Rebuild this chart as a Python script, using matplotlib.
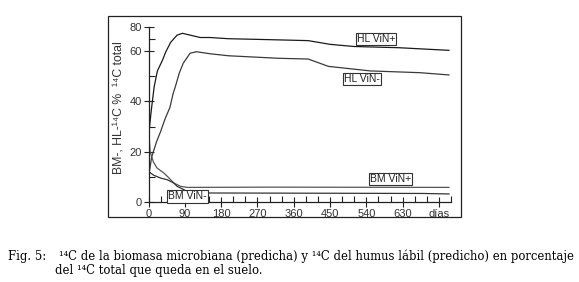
import numpy as np
import matplotlib.pyplot as plt
from matplotlib.patches import Rectangle
from matplotlib.ticker import MultipleLocator, FixedLocator

# % of total 14C against days
hl_pos_days = [0, 1, 2, 7, 14, 22, 34, 43, 55, 71, 84, 103, 128, 152, 198, 300, 396, 450, 510, 620, 745]
hl_pos_vals = [0, 22, 29, 36.5, 45.7, 52, 56, 59.6, 67, 73, 74.5, 73, 71, 71, 70, 69.2, 68.4, 65.3, 63.5, 62.5, 60.3]

hl_neg_days = [0, 2, 8, 20, 30, 41, 53, 61, 67, 76, 86, 103, 119, 152, 198, 322, 396, 446, 550, 673, 745]
hl_neg_vals = [0, 12, 18, 24, 28, 33, 37.5, 43, 46, 51, 55, 59, 59.6, 58.8, 58, 57, 56.7, 53.8, 52, 51.3, 50.4]

bm_pos_days = [0, 4, 12, 21, 38, 51, 63, 80, 96, 300, 745]
bm_pos_vals = [30, 20, 16, 13.6, 11.6, 9.6, 7.6, 6.3, 5.9, 6.0, 5.9]

bm_neg_days = [0, 13, 30, 47, 63, 71, 88, 100, 400, 680, 745]
bm_neg_vals = [12.2, 10.7, 9.6, 8.9, 7.6, 6.3, 5.0, 3.7, 3.6, 3.5, 3.3]

labels = ["HL ViN+", "HL ViN-", "BM ViN+", "BM ViN-"]
label_x = [564, 529, 600, 97]
label_y = [69.75, 48.8, 9.2, 2.3]

xtick_vals = [0, 90, 180, 270, 360, 450, 540, 630, 720]
xtick_labels = ["0", "90", "180", "270", "360", "450", "540", "630", "días"]
ytick_vals = [0, 20, 40, 60, 80]

caption_1 = "¹⁴C de la biomasa microbiana (predicha) y ¹⁴C del humus lábil (predicho) en porcentaje"
caption_2 = "del ¹⁴C total que queda en el suelo."

# the original y axis is squeezed above 60
k = 0.475
def fwd(y):
    y = np.asarray(y, dtype=float)
    return np.where(y <= 60, y, 60 + (y - 60) * k)
def inv(t):
    t = np.asarray(t, dtype=float)
    return np.where(t <= 60, t, 60 + (t - 60) / k)

sans = ["Liberation Sans", "DejaVu Sans"]
serif = ["DejaVu Serif"]

fig = plt.figure(figsize=(5.79, 2.82), dpi=100)
ax = fig.add_axes([148.5 / 579, (282 - 202.3) / 282, 302.5 / 579, 175.6 / 282])
ax.set_yscale("function", functions=(fwd, inv))

ax.plot(hl_pos_days, hl_pos_vals, color="#1a1a1a", lw=0.9)
ax.plot(hl_neg_days, hl_neg_vals, color="#3a3a3a", lw=0.9)
ax.plot(bm_pos_days, bm_pos_vals, color="#555555", lw=0.9)
ax.plot(bm_neg_days, bm_neg_vals, color="#333333", lw=0.9)

for s, x, y in zip(labels, label_x, label_y):
    ax.text(x, y, s, ha="center", va="center", fontsize=7.5, family=sans,
            color="#222", zorder=5,
            bbox=dict(boxstyle="square,pad=0.12", fc="white", ec="#333", lw=0.8))

ax.set_xlim(0, 750)
ax.set_ylim(0, 80)
for side in ["top", "right"]:
    ax.spines[side].set_visible(False)
for side in ["left", "bottom"]:
    ax.spines[side].set_linewidth(0.9)
    ax.spines[side].set_color("#222")

ax.xaxis.set_major_locator(FixedLocator(xtick_vals))
ax.set_xticklabels(xtick_labels)
ax.xaxis.set_minor_locator(MultipleLocator(30))
ax.yaxis.set_major_locator(FixedLocator(ytick_vals))
ax.yaxis.set_minor_locator(FixedLocator([10, 30, 50, 70]))
ax.tick_params(which="major", direction="inout", length=7, width=0.8,
               color="#222", labelsize=8, pad=1.5, labelcolor="#333")
ax.tick_params(which="minor", direction="in", length=4, width=0.8, color="#222")
for lab in ax.get_xticklabels() + ax.get_yticklabels():
    lab.set_family(sans)

fig.text(119 / 579, 1 - 108 / 282, "BM-, HL-¹⁴C %  ¹⁴C total", rotation=90,
         ha="center", va="center", fontsize=8.8, family=sans, color="#333")

fig.add_artist(Rectangle((108 / 579, 1 - 216.5 / 282), 353 / 579, 200.5 / 282,
                         transform=fig.transFigure, fill=False, ec="#222", lw=0.9))

fs = 8.7
fig.text(8 / 579, 1 - 260 / 282, "Fig. 5:", ha="left", va="baseline",
         fontsize=fs, family=serif)
t1 = fig.text(59 / 579, 1 - 260 / 282, caption_1, ha="left", va="baseline",
              fontsize=fs, family=serif)
t2 = fig.text(55 / 579, 1 - 274.3 / 282, caption_2, ha="left", va="baseline",
              fontsize=fs, family=serif)

# shrink the caption so the first line ends near the right edge, like the original
r = fig.canvas.get_renderer()
w = t1.get_window_extent(r).width
scale = (573 - 59) / w
for t in fig.texts[-3:]:
    t.set_fontsize(fs * scale)

fig.savefig("out.png", dpi=100)
